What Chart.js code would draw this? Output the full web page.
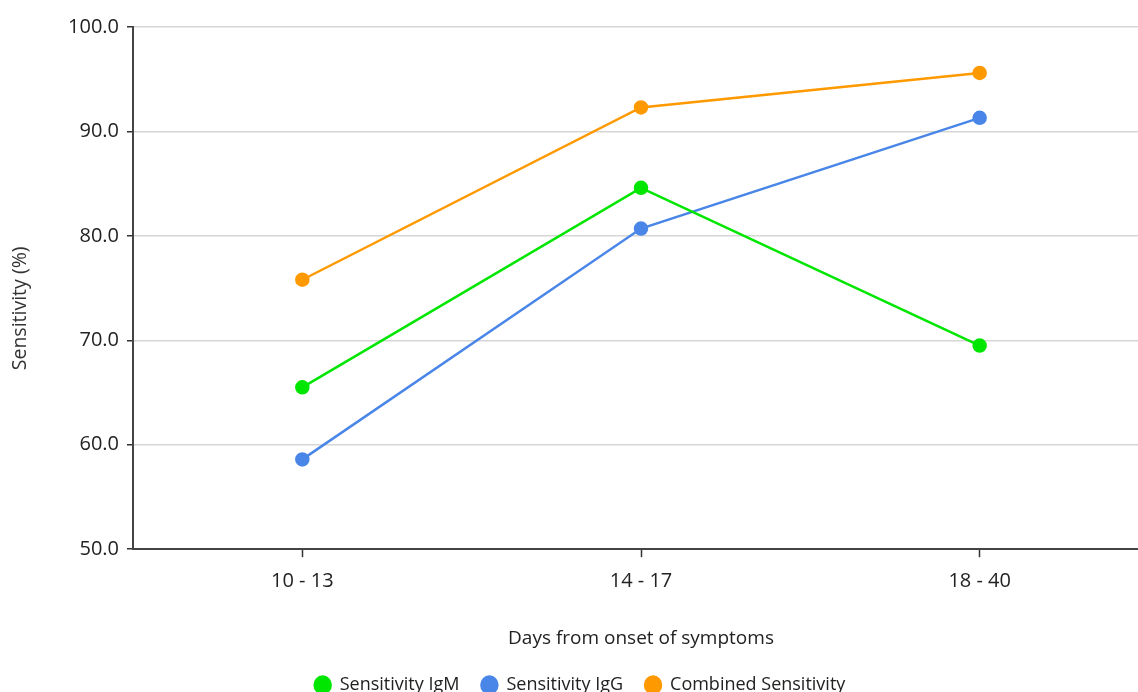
<!DOCTYPE html>
<html>
<head>
<meta charset="utf-8">
<script src="https://cdn.jsdelivr.net/npm/chart.js@4/dist/chart.umd.min.js"></script>
<style>
html,body{margin:0;padding:0;background:#fff;overflow:hidden;}
#wrap{width:1160px;height:704px;position:relative;}
</style>
</head>
<body>
<div id="wrap"><canvas id="c"></canvas></div>
<script>
const categories = ["10 - 13", "14 - 17", "18 - 40"];
const igm = [65.5, 84.6, 69.5];
const igg = [58.6, 80.7, 91.3];
const combined = [75.8, 92.3, 95.6];
const seriesNames = ["Sensitivity IgM", "Sensitivity IgG", "Combined Sensitivity"];
const colors = ["#00e600", "#4a86e8", "#ff9900"];
const FONT = "'Open Sans', 'Noto Sans', sans-serif";

function ds(label, data, color) {
  return {
    label, data,
    borderColor: color, backgroundColor: color,
    pointBackgroundColor: color, pointBorderColor: color,
    borderWidth: 2.5, pointRadius: 6, pointHoverRadius: 6, tension: 0,
    yAxisID: 'y'
  };
}

new Chart(document.getElementById('c'), {
  type: 'line',
  data: {
    labels: categories,
    datasets: [
      ds(seriesNames[0], igm, colors[0]),
      ds(seriesNames[1], igg, colors[1]),
      ds(seriesNames[2], combined, colors[2])
    ]
  },
  options: {
    responsive: true,
    maintainAspectRatio: false,
    animation: false,
    layout: { padding: { top: 27, left: 0, right: 0, bottom: 0 } },
    plugins: {
      legend: {
        position: 'bottom',
        labels: {
          usePointStyle: true, pointStyle: 'circle', boxWidth: 12, boxHeight: 12, pointStyleWidth: 16,
          color: '#222', font: { family: FONT, size: 18 }, padding: 22
        }
      },
      tooltip: { enabled: false }
    },
    scales: {
      x: {
        type: 'category',
        offset: true,
        grid: { drawOnChartArea: false, drawTicks: true, tickLength: 8, tickColor: '#333', tickWidth: 1.5 },
        border: { display: true, color: '#444', width: 2 },
        ticks: { color: '#222', font: { family: FONT, size: 20 }, padding: 12 },
        title: { display: true, text: 'Days from onset of symptoms', color: '#222', font: { family: FONT, size: 19 }, padding: { top: 22, bottom: 4 } }
      },
      y: {
        min: 50, max: 100,
        ticks: { stepSize: 10, color: '#222', font: { family: FONT, size: 20 }, padding: 8,
          callback: v => Number(v).toFixed(1) },
        grid: { color: '#d6d6d6', lineWidth: 1.5, tickColor: '#333', tickLength: 6 },
        border: { display: true, color: '#444', width: 2 },
        title: { display: true, text: 'Sensitivity (%)        ', color: '#333', font: { family: FONT, size: 19.5 }, padding: { top: 9, bottom: 10 } },
        afterFit: s => { s.width = 133; }
      },
      y2: {
        position: 'right', display: true,
        grid: { display: false }, border: { display: false }, ticks: { display: false },
        afterFit: s => { s.width = 11; }
      }
    }
  }
});
</script>
</body>
</html>
